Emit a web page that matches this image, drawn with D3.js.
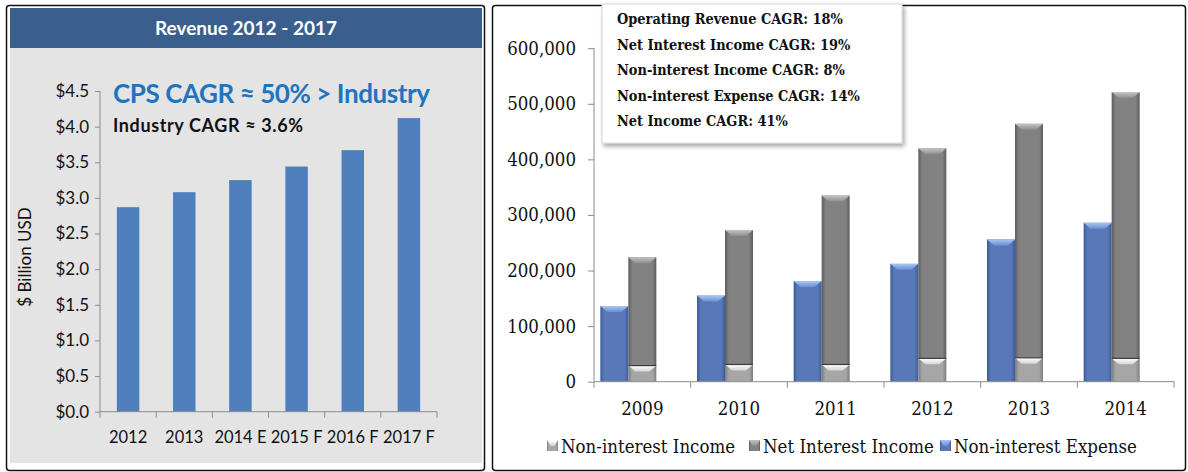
<!DOCTYPE html>
<html>
<head>
<meta charset="utf-8">
<script src="https://cdn.jsdelivr.net/npm/d3@7"></script>
<style>
  body { margin: 0; background: #fff; }
  .lft text { font-family: Lato, "Open Sans", sans-serif; }
  .rgt text { font-family: "DejaVu Serif Condensed", "DejaVu Serif", serif; }
</style>
</head>
<body>
<div id="chart"></div>
<script>
// left chart data
var revYears = ["2012", "2013", "2014 E", "2015 F", "2016 F", "2017 F"];
var revenue = [2.87, 3.08, 3.25, 3.44, 3.67, 4.12];
var revTicks = [0, 0.5, 1, 1.5, 2, 2.5, 3, 3.5, 4, 4.5];

// right chart data
var years = ["2009", "2010", "2011", "2012", "2013", "2014"];
var nonIntExpense = [136000, 155000, 181000, 212000, 256000, 286000];
var nonIntIncome = [29000, 31000, 31000, 42000, 43000, 42000];
var netIntIncome = [195000, 242000, 304000, 378000, 421000, 479000];
var valTicks = [0, 100000, 200000, 300000, 400000, 500000, 600000];
var cagrNotes = ["Operating Revenue CAGR: 18%", "Net Interest Income CAGR: 19%",
  "Non-interest Income CAGR: 8%", "Non-interest Expense CAGR: 14%", "Net Income CAGR: 41%"];
var legendNames = ["Non-interest Income", "Net Interest Income", "Non-interest Expense"];

var svg = d3.select("#chart").append("svg")
  .attr("width", 1188)
  .attr("height", 472);

var defs = svg.append("defs");

// horizontal shading for the bevel bars
function hGrad(id, edge, mid) {
  var g = defs.append("linearGradient").attr("id", id)
    .attr("x1", "0").attr("x2", "1").attr("y1", "0").attr("y2", "0");
  g.append("stop").attr("offset", "0%").attr("stop-color", edge);
  g.append("stop").attr("offset", "14%").attr("stop-color", mid);
  g.append("stop").attr("offset", "86%").attr("stop-color", mid);
  g.append("stop").attr("offset", "100%").attr("stop-color", edge);
}
function vGrad(id, top, bottom) {
  var g = defs.append("linearGradient").attr("id", id)
    .attr("x1", "0").attr("x2", "0").attr("y1", "0").attr("y2", "1");
  g.append("stop").attr("offset", "0%").attr("stop-color", top);
  g.append("stop").attr("offset", "100%").attr("stop-color", bottom);
}
hGrad("blueBar", "#3d5c99", "#5878b8");
hGrad("grayBar", "#5c5c5c", "#828282");
hGrad("lightBar", "#7d7d7d", "#a6a6a6");
vGrad("blueTop", "#a9c6f2", "#6b8fd0");
vGrad("grayTop", "#c4c4c4", "#8e8e8e");
vGrad("lightTop", "#ffffff", "#d4d4d4");

var shadow = defs.append("filter").attr("id", "shadow")
  .attr("x", "-5%").attr("y", "-5%").attr("width", "115%").attr("height", "120%");
shadow.append("feDropShadow").attr("dx", 2).attr("dy", 3)
  .attr("stdDeviation", 2).attr("flood-color", "#000").attr("flood-opacity", 0.35);

// ================= left panel =================
var lft = svg.append("g").attr("class", "lft");

lft.append("rect")
  .attr("x", 6.5).attr("y", 5.5).attr("width", 478).attr("height", 465)
  .attr("rx", 3).attr("fill", "#fff").attr("stroke", "#111").attr("stroke-width", 1.5);
lft.append("rect")
  .attr("x", 10).attr("y", 8).attr("width", 472).attr("height", 40)
  .attr("fill", "#3a5f8e");
lft.append("rect")
  .attr("x", 10).attr("y", 48).attr("width", 472).attr("height", 415)
  .attr("fill", "#e4e4e4");
lft.append("text")
  .attr("x", 246).attr("y", 35)
  .attr("text-anchor", "middle")
  .attr("fill", "#fff")
  .attr("font-size", 19)
  .attr("font-weight", "bold")
  .text("Revenue 2012 - 2017");

var xRev = d3.scaleBand()
  .domain(revYears)
  .range([100, 437])
  .paddingInner(0.6)
  .paddingOuter(0.3);

var yRev = d3.scaleLinear()
  .domain([0, 4.5])
  .range([411.7, 91]);

lft.selectAll(".revbar")
  .data(revenue)
  .enter()
  .append("rect")
  .attr("class", "revbar")
  .attr("x", (d, i) => xRev(revYears[i]))
  .attr("y", d => yRev(d))
  .attr("width", xRev.bandwidth())
  .attr("height", d => yRev(0) - yRev(d))
  .attr("fill", "#4f7fbd");

var leftAxis = d3.axisLeft(yRev)
  .tickValues(revTicks)
  .tickSize(5)
  .tickPadding(6)
  .tickFormat(d => "$" + d3.format(".1f")(d));

var yAxL = lft.append("g")
  .attr("transform", "translate(100,0)")
  .call(leftAxis);
yAxL.select(".domain").attr("stroke", "#8c8c8c").attr("d", "M0,91V411.7");
yAxL.selectAll("line").attr("stroke", "#8c8c8c");
yAxL.selectAll("text").attr("font-size", 17).attr("fill", "#111");

var bottomAxis = d3.axisBottom(xRev).tickSize(0).tickPadding(20);
var xAxL = lft.append("g")
  .attr("transform", "translate(0,411.7)")
  .call(bottomAxis);
xAxL.select(".domain").attr("stroke", "#8c8c8c").attr("d", "M100,0H437");
xAxL.selectAll("text").attr("font-size", 16.5).attr("fill", "#111");
// tick marks sit between the categories
xAxL.selectAll(".sep")
  .data(revYears.concat(["end"]))
  .enter()
  .append("line")
  .attr("class", "sep")
  .attr("x1", (d, i) => 100 + i * xRev.step())
  .attr("x2", (d, i) => 100 + i * xRev.step())
  .attr("y1", 0).attr("y2", 6)
  .attr("stroke", "#8c8c8c");

lft.append("text")
  .attr("transform", "translate(31,257) rotate(-90)")
  .attr("text-anchor", "middle")
  .attr("font-size", 17)
  .attr("fill", "#111")
  .text("$ Billion USD");

lft.append("text")
  .attr("x", 113).attr("y", 103)
  .attr("font-size", 26)
  .attr("font-weight", "bold")
  .attr("fill", "#1f74bf")
  .attr("textLength", 317)
  .text("CPS CAGR ≈ 50% > Industry");

lft.append("text")
  .attr("x", 113).attr("y", 131.5)
  .attr("font-size", 18)
  .attr("font-weight", "bold")
  .attr("fill", "#111")
  .attr("textLength", 190)
  .text("Industry CAGR ≈ 3.6%");

// ================= right panel =================
var rgt = svg.append("g").attr("class", "rgt");

rgt.append("rect")
  .attr("x", 492.5).attr("y", 5.5).attr("width", 693).attr("height", 465)
  .attr("rx", 3).attr("fill", "#fff").attr("stroke", "#111").attr("stroke-width", 1.5);

var x = d3.scaleBand()
  .domain(years)
  .range([594, 1174]);

var xSub = d3.scaleBand()
  .domain(["exp", "inc", "blank"])
  .range([0, x.bandwidth()])
  .paddingOuter(0.226);

var y = d3.scaleLinear()
  .domain([0, 600000])
  .range([381.7, 48.2]);

// bevel bar: shaded body plus a lighter trapezoid on top
function bevelBar(g, bx, by, bw, bh, body, top) {
  g.append("rect")
    .attr("x", bx).attr("y", by).attr("width", bw).attr("height", bh)
    .attr("fill", "url(#" + body + ")");
  var b = Math.min(6, bh);
  var ins = Math.min(7, bw / 3);
  g.append("path")
    .attr("d", "M" + bx + "," + by + "H" + (bx + bw) + "L" + (bx + bw - ins) + "," + (by + b) +
      "H" + (bx + ins) + "Z")
    .attr("fill", "url(#" + top + ")");
}

var bars = rgt.append("g");
years.forEach(function(yr, i) {
  var x0 = x(yr);
  var w = xSub.bandwidth();
  // expense
  bevelBar(bars, x0 + xSub("exp"), y(nonIntExpense[i]), w,
    y(0) - y(nonIntExpense[i]), "blueBar", "blueTop");
  // non-interest income at the bottom, net interest income stacked above
  var base = nonIntIncome[i];
  var total = base + netIntIncome[i];
  bevelBar(bars, x0 + xSub("inc"), y(total), w,
    y(base) - y(total), "grayBar", "grayTop");
  bevelBar(bars, x0 + xSub("inc"), y(base), w,
    y(0) - y(base), "lightBar", "lightTop");
  bars.append("line")
    .attr("x1", x0 + xSub("inc")).attr("x2", x0 + xSub("inc") + w)
    .attr("y1", y(base)).attr("y2", y(base))
    .attr("stroke", "#3a3a3a").attr("stroke-width", 1.2);
});

var yAxis = d3.axisLeft(y)
  .tickValues(valTicks)
  .tickSize(6)
  .tickPadding(12)
  .tickFormat(d3.format(","));
var yAxR = rgt.append("g")
  .attr("transform", "translate(594,0)")
  .call(yAxis);
yAxR.select(".domain").attr("stroke", "#8c8c8c").attr("d", "M0,48.2V381.7");
yAxR.selectAll("line").attr("stroke", "#8c8c8c");
yAxR.selectAll("text").attr("font-size", 18.5).attr("fill", "#111");

var xAxis = d3.axisBottom(x).tickSize(0).tickPadding(20);
var xAxR = rgt.append("g")
  .attr("transform", "translate(0,381.7)")
  .call(xAxis);
xAxR.select(".domain").attr("stroke", "#8c8c8c").attr("d", "M594,0H1174");
xAxR.selectAll("text").attr("font-size", 18.5).attr("fill", "#111");
xAxR.selectAll(".sep")
  .data(years.concat(["end"]))
  .enter()
  .append("line")
  .attr("class", "sep")
  .attr("x1", (d, i) => 594 + i * x.step())
  .attr("x2", (d, i) => 594 + i * x.step())
  .attr("y1", 0).attr("y2", 6)
  .attr("stroke", "#8c8c8c");

// CAGR note box
rgt.append("rect")
  .attr("x", 602).attr("y", 4).attr("width", 300).attr("height", 139)
  .attr("fill", "#fff")
  .attr("stroke", "#d6d6d6")
  .attr("filter", "url(#shadow)");
rgt.selectAll(".note")
  .data(cagrNotes)
  .enter()
  .append("text")
  .attr("class", "note")
  .attr("x", 617)
  .attr("y", (d, i) => 24 + i * 25.6)
  .attr("font-size", 14.4)
  .attr("font-weight", "bold")
  .attr("fill", "#111")
  .text(d => d);

// legend
var legendX = [547, 749, 940];
var legendBody = ["lightBar", "grayBar", "blueBar"];
var legendTop = ["lightTop", "grayTop", "blueTop"];
var leg = rgt.append("g");
legendNames.forEach(function(name, i) {
  bevelBar(leg, legendX[i], 440, 11, 11, legendBody[i], legendTop[i]);
  leg.append("text")
    .attr("x", legendX[i] + 14)
    .attr("y", 453)
    .attr("font-size", 18.5)
    .attr("fill", "#111")
    .text(name);
});
</script>
</body>
</html>
